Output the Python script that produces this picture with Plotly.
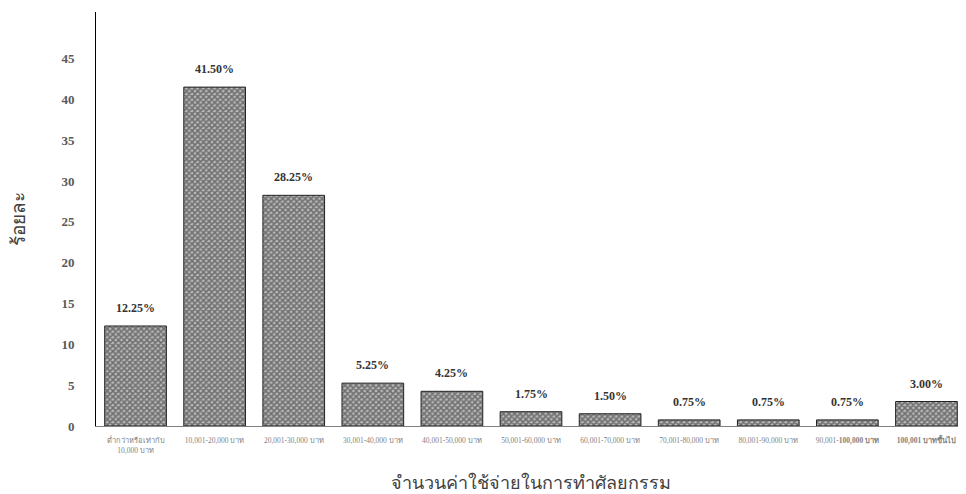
import plotly.graph_objects as go

categories = [
    "ต่ำกว่าหรือเท่ากับ<br>10,000 บาท",
    "10,001-20,000 บาท",
    "20,001-30,000 บาท",
    "30,001-40,000 บาท",
    "40,001-50,000 บาท",
    "50,001-60,000 บาท",
    "60,001-70,000 บาท",
    "70,001-80,000 บาท",
    "80,001-90,000 บาท",
    "90,001-<b>100,000 บาท</b>",
    "<b>100,001 บาทขึ้นไป</b>",
]
values = [12.25, 41.50, 28.25, 5.25, 4.25, 1.75, 1.50, 0.75, 0.75, 0.75, 3.00]
value_labels = ["12.25%", "41.50%", "28.25%", "5.25%", "4.25%", "1.75%", "1.50%",
                "0.75%", "0.75%", "0.75%", "3.00%"]
y_ticks = [0, 5, 10, 15, 20, 25, 30, 35, 40, 45]

x_idx = list(range(len(categories)))

fig = go.Figure()
fig.add_trace(go.Bar(
    x=x_idx, y=values,
    marker=dict(
        color="#bbbbbb",
        line=dict(color="#222222", width=1),
        pattern=dict(shape="x", fgcolor="#262626", bgcolor="#b8b8b8", size=4, solidity=0.62),
    ),
    width=0.78,
))

for xi, v, lab in zip(x_idx, values, value_labels):
    fig.add_annotation(
        x=xi, y=v, text="<b>%s</b>" % lab, showarrow=False,
        yanchor="bottom", yshift=9,
        font=dict(family="Liberation Serif", size=12, color="#333333"),
    )

fig.update_layout(
    width=958, height=486,
    margin=dict(l=88, r=0, t=4, b=68),
    paper_bgcolor="white", plot_bgcolor="white",
    showlegend=False,
    font=dict(family="Liberation Serif, Noto Sans, sans-serif", color="#595959"),
    xaxis=dict(
        tickmode="array", tickvals=x_idx, ticktext=categories,
        range=[-0.5, 10.5],
        showline=True, linecolor="#808080", linewidth=1,
        showgrid=False, ticks="",
        tickangle=0, automargin=False,
        ticklabelstandoff=7,
        tickfont=dict(size=7.5, color="#7f7f7f"),
        title=dict(text="จำนวนค่าใช้จ่ายในการทำศัลยกรรม",
                   font=dict(size=18, color="#404040"), standoff=22),
    ),
    yaxis=dict(
        range=[0, 50.7], automargin=False,
        tickmode="array", tickvals=y_ticks,
        ticktext=["<b>%d</b>" % v for v in y_ticks],
        tickfont=dict(size=13, color="#595959"),
        showline=True, linecolor="#000000", linewidth=1,
        showgrid=False, zeroline=False, ticks="",
        ticklabelstandoff=18,
        title=dict(text="ร้อยละ", font=dict(size=19, color="#404040"), standoff=30),
    ),
)

fig.write_html("out.html")
